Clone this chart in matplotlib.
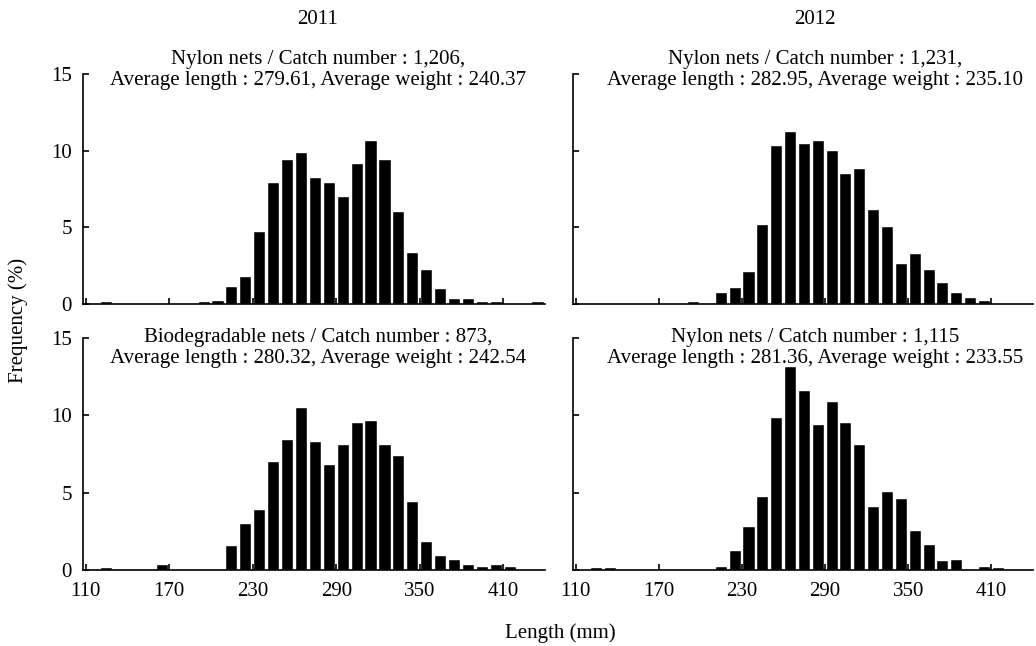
import matplotlib
matplotlib.use("Agg")
import matplotlib.pyplot as plt

plt.rcParams['font.family'] = ['Liberation Serif', 'DejaVu Serif']
plt.rcParams['font.size'] = 15

# bin centres (mm), 10 mm classes
lengths = [115 + 10 * i for i in range(33)]

# frequency (%) per class
nylon_2011 = [0, 0.1, 0, 0, 0, 0, 0, 0, 0.1, 0.2, 1.1, 1.75, 4.7, 7.9, 9.4, 9.85,
              8.25, 7.9, 7.0, 9.1, 10.65, 9.4, 6.0, 3.3, 2.2, 1.0, 0.3, 0.3, 0.15,
              0.15, 0, 0, 0.1]
bio_2011 = [0, 0.15, 0, 0, 0, 0.3, 0, 0, 0, 0, 1.55, 2.95, 3.9, 7.0, 8.4, 10.5,
            8.3, 6.8, 8.1, 9.5, 9.65, 8.1, 7.35, 4.4, 1.8, 0.9, 0.65, 0.3, 0.2,
            0.3, 0.2, 0, 0]
nylon_2012a = [0, 0, 0, 0, 0, 0, 0, 0, 0.1, 0, 0.7, 1.05, 2.1, 5.15, 10.3, 11.2,
               10.45, 10.65, 10.0, 8.5, 8.8, 6.15, 5.05, 2.6, 3.25, 2.2, 1.35, 0.75,
               0.4, 0.2, 0, 0, 0]
nylon_2012b = [0, 0.1, 0.1, 0, 0, 0, 0, 0, 0, 0, 0.2, 1.2, 2.8, 4.7, 9.85, 13.15,
               11.6, 9.4, 10.85, 9.5, 8.1, 4.1, 5.05, 4.6, 2.5, 1.6, 0.55, 0.65,
               0, 0.2, 0.1, 0, 0]

titles = [
    "Nylon nets / Catch number : 1,206,\nAverage length : 279.61, Average weight : 240.37",
    "Nylon nets / Catch number : 1,231,\nAverage length : 282.95, Average weight : 235.10",
    "Biodegradable nets / Catch number : 873,\nAverage length : 280.32, Average weight : 242.54",
    "Nylon nets / Catch number : 1,115\nAverage length : 281.36, Average weight : 233.55",
]
series = [nylon_2011, nylon_2012a, bio_2011, nylon_2012b]
years = ["2011", "2012"]
xticks = [110, 170, 230, 290, 350, 410]

fig = plt.figure(figsize=(10.36, 6.46), dpi=100)

W, H = 1036, 646
# axes boxes in pixels: left, right, top(15), bottom(0)
boxes = [(83, 545, 74, 304), (573, 1033, 74, 304),
         (83, 545, 338, 570), (573, 1033, 338, 570)]
text_x = [318, 815]

for k, (l, r, t, b) in enumerate(boxes):
    ax = fig.add_axes([l / W, (H - b) / H, (r - l) / W, (b - t) / H])
    ax.bar(lengths, series[k], width=8, color='black', edgecolor='white', linewidth=0.3)
    ax.set_xlim(108, 440)
    ax.set_ylim(0, 15)
    ax.spines['top'].set_visible(False)
    ax.spines['right'].set_visible(False)
    ax.spines['left'].set_linewidth(1.2)
    ax.spines['bottom'].set_linewidth(1.2)
    ax.set_yticks([0, 5, 10, 15])
    ax.set_xticks(xticks)
    ax.tick_params(axis='y', direction='in', length=4, width=1.2, pad=8)
    ax.tick_params(axis='x', direction='in', length=4, width=1.2, pad=9)
    if k % 2 == 1:
        ax.set_yticklabels([])
    if k < 2:
        ax.set_xticklabels([])
    col = k % 2
    ty = 70 if k < 2 else 348
    fig.text(text_x[col] / W, (H - ty) / H, titles[k], ha='center', va='center',
             linespacing=1.1)

for i, yr in enumerate(years):
    fig.text(text_x[i] / W, (H - 20) / H, yr, ha='center', va='center')

fig.text(18 / W, (H - 320) / H, "Frequency (%)", rotation=90, ha='center', va='center')
fig.text(560 / W, (H - 633) / H, "Length (mm)", ha='center', va='center')

fig.savefig("out.png", dpi=100)
